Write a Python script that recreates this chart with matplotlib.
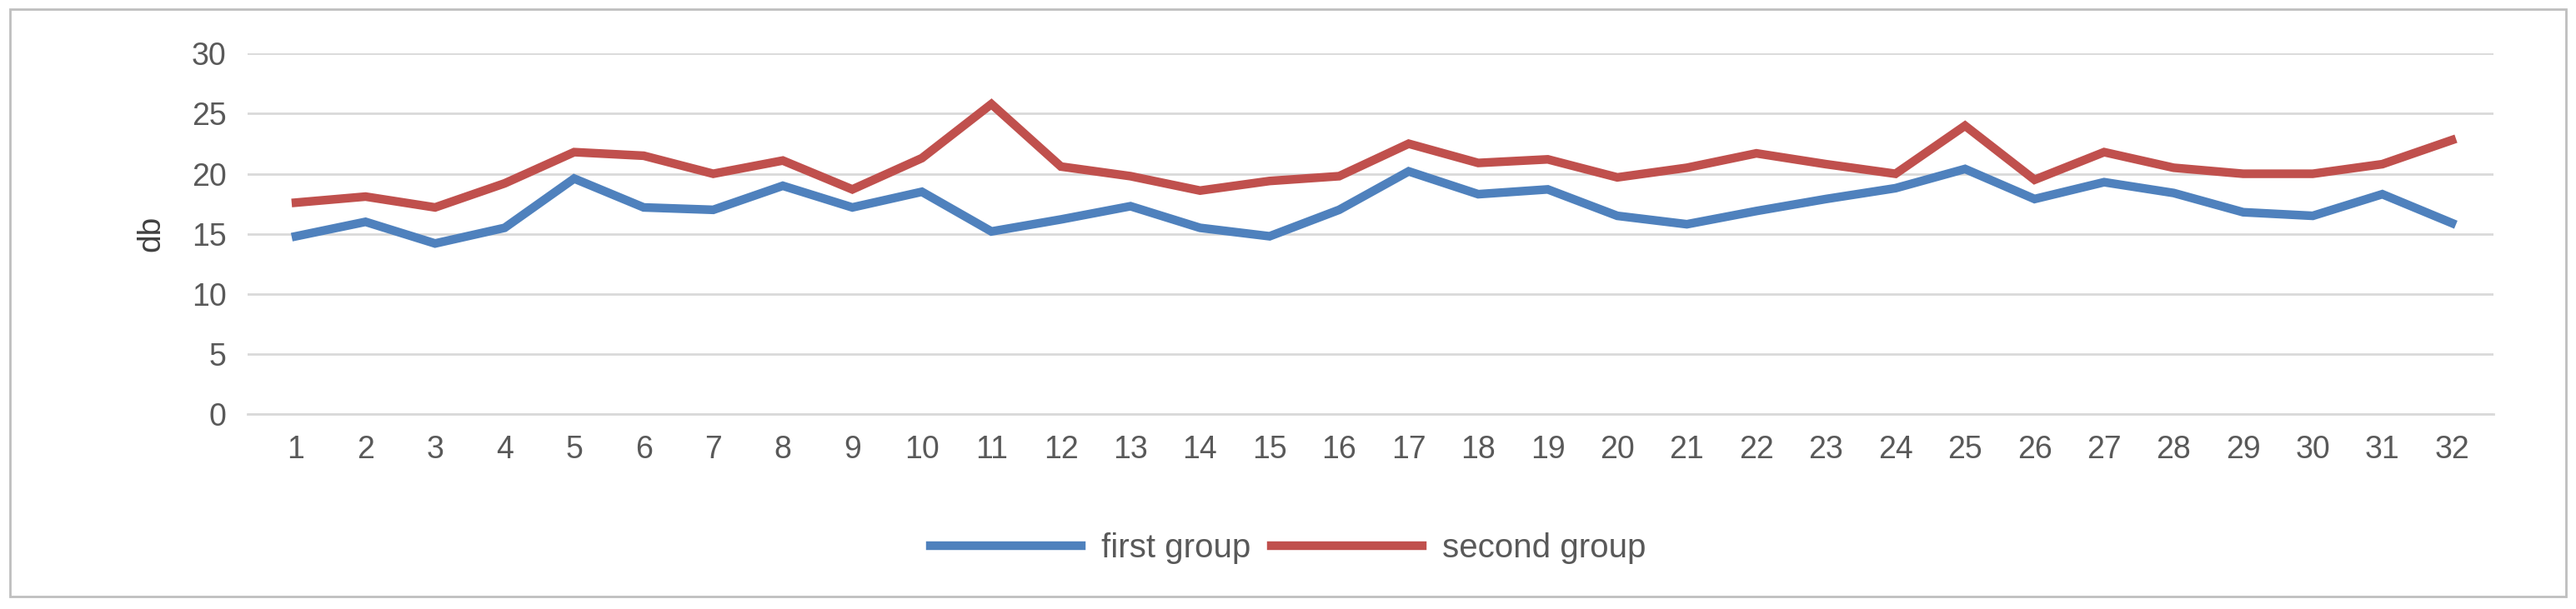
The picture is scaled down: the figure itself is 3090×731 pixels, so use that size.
import matplotlib
matplotlib.use("Agg")
import matplotlib.pyplot as plt
from matplotlib.patches import Rectangle

x = list(range(1, 33))
first_group = [14.8,16,14.2,15.5,19.6,17.2,17,19,17.2,18.5,15.2,16.2,17.3,15.5,14.8,17,
               20.2,18.3,18.7,16.5,15.8,16.9,17.9,18.8,20.4,17.9,19.3,18.4,16.8,16.5,18.3,15.9]
second_group = [17.6,18.1,17.2,19.2,21.8,21.5,20,21.1,18.7,21.3,25.8,20.6,19.8,18.6,19.4,19.8,
                22.5,20.9,21.2,19.7,20.5,21.7,20.8,20,24,19.5,21.8,20.5,20,20,20.8,22.8]

plt.rcParams['font.family'] = ['Liberation Sans', 'DejaVu Sans']
fig = plt.figure(figsize=(30.9, 7.31), dpi=100)
ax = fig.add_axes([0.096, 0.32, 0.872, 0.592])
ax.plot(x, first_group, color='#4F81BD', lw=7.5, label='first group', solid_joinstyle='miter')
ax.plot(x, second_group, color='#C0504D', lw=7.5, label='second group', solid_joinstyle='miter')
ax.set_xlim(0.3, 32.6)
ax.set_ylim(0, 30)
ax.set_yticks(range(0, 31, 5))
ax.set_xticks(x)
ax.grid(axis='y', color='#D9D9D9', lw=2)
ax.set_axisbelow(True)
for s in ax.spines.values():
    s.set_visible(False)
ax.spines['bottom'].set_visible(True)
ax.spines['bottom'].set_color('#D9D9D9')
ax.spines['bottom'].set_linewidth(2)
ax.tick_params(length=0, labelsize=27, colors='#595959', pad=18)
ax.set_ylabel('db', fontsize=28, color='#404040', labelpad=22)
leg = fig.legend(loc='center', bbox_to_anchor=(0.5, 0.1), ncol=2, frameon=False,
                 fontsize=29, handlelength=4.5, handletextpad=0.6, columnspacing=0.6)
for line in leg.get_lines():
    line.set_linewidth(7.5)
for t in leg.get_texts():
    t.set_color('#595959')
fig.patches.append(Rectangle((0.004, 0.02), 0.992, 0.965, transform=fig.transFigure,
                             fill=False, edgecolor='#BFBFBF', lw=2))
fig.savefig('out.png', dpi=100, facecolor='white')
